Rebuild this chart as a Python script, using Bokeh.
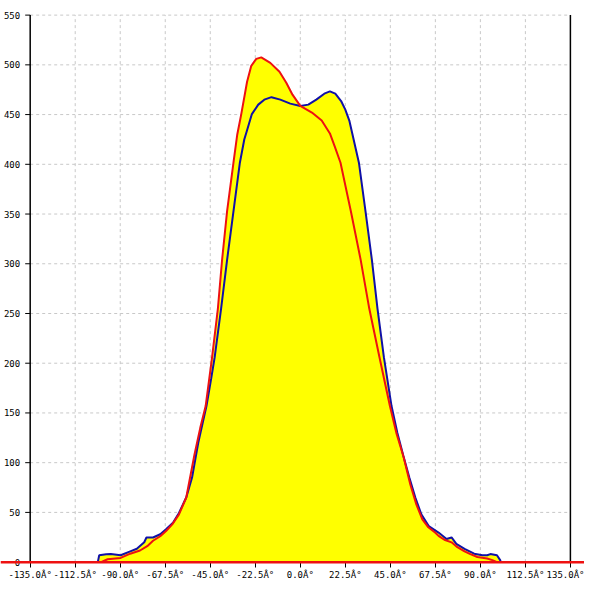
import numpy as np
from bokeh.plotting import figure
from bokeh.models import FixedTicker, Range1d, Span
from bokeh.core.properties import value
from bokeh.embed import file_html
from bokeh.resources import INLINE

# ---- data ----
X_TICKS = [-135.0, -112.5, -90.0, -67.5, -45.0, -22.5, 0.0, 22.5, 45.0, 67.5, 90.0, 112.5, 135.0]
X_LABELS = [f"{t:.1f}Â°" for t in X_TICKS]
Y_TICKS = [0, 50, 100, 150, 200, 250, 300, 350, 400, 450, 500, 550]
Y_LABELS = [str(v) for v in Y_TICKS]

BLUE_X = [-101.2, -100.5, -97.0, -94.7, -89.8, -85.0, -81.7, -78.0, -76.9, -73.6, -70.0, -67.1,
          -63.5, -60.7, -57.0, -54.1, -51.0, -49.0, -46.9, -44.5, -42.8, -39.6, -36.6, -33.4,
          -30.2, -28.0, -26.6, -24.2, -21.0, -18.0, -14.4, -10.0, -5.0, 0.0, 4.0, 8.0, 12.0,
          14.8, 17.5, 20.4, 22.5, 24.5, 27.0, 29.3, 32.6, 35.8, 38.6, 41.8, 45.6, 48.5, 51.5,
          54.5, 57.5, 60.5, 64.2, 69.1, 73.1, 75.6, 78.0, 82.1, 86.9, 91.0, 93.4, 95.0, 98.3,
          99.9, 100.2]
BLUE_Y = [0, 6.9, 8.0, 8.1, 6.9, 10.8, 13.4, 20.0, 24.8, 24.8, 28.0, 33.0,
          40.0, 49.2, 65.0, 85.0, 120.0, 138.0, 156.9, 185.0, 205.8, 254.7, 303.7, 352.6,
          401.6, 425.0, 434.2, 450.5, 460.0, 465.0, 467.5, 465.0, 461.0, 458.7, 460.0, 465.0, 471.0,
          473.4, 471.0, 463.6, 455.0, 444.0, 422.0, 401.6, 352.6, 303.7, 254.7, 205.8, 156.9, 130.0, 107.0,
          85.0, 65.0, 48.0, 36.2, 29.7, 23.2, 24.8, 18.3, 13.4, 8.5, 6.9, 6.9, 8.1, 6.9,
          2.0, 0]

RED_X = [-99.6, -96.3, -89.8, -85.0, -80.1, -76.5, -73.6, -70.0, -67.1, -64.0, -60.7, -57.0,
         -52.9, -50.0, -47.3, -44.1, -41.2, -39.1, -36.6, -33.4, -31.5, -29.5, -26.6, -24.5,
         -22.0, -19.5, -15.0, -10.4, -7.0, -3.9, 0.0, 5.8, 10.7, 14.8, 17.2, 20.1, 25.3, 30.2,
         34.5, 39.6, 44.8, 48.0, 51.6, 55.0, 58.0, 61.0, 64.0, 67.5, 69.1, 72.0, 75.6, 78.5,
         82.1, 85.0, 88.5, 93.4, 96.0, 98.3]
RED_Y = [0, 2.9, 4.2, 8.5, 11.7, 16.0, 21.5, 26.0, 31.3, 38.0, 47.7, 65.0,
         108.0, 135.0, 156.9, 205.8, 254.7, 303.7, 352.6, 401.6, 430.0, 450.5, 483.0, 499.0,
         506.0, 507.5, 502.0, 493.0, 482.0, 470.0, 458.7, 452.0, 444.0, 431.0, 418.0, 401.6, 352.6, 303.7,
         254.7, 205.8, 156.9, 130.0, 106.0, 78.0, 58.0, 43.0, 35.0, 29.5, 26.4, 22.5, 19.9, 15.0,
         10.8, 8.0, 5.2, 3.6, 2.0, 0]

X_MIN, X_MAX = X_TICKS[0], X_TICKS[-1]
Y_MIN, Y_MAX = Y_TICKS[0], Y_TICKS[-1]

FONT = value("DejaVu Sans Mono")
GRID = "#c8c8c8"
RED = "#ee1111"
BLUE = "#1010a8"

p = figure(width=584, height=584,
           x_range=Range1d(-149.84, 142.05), y_range=Range1d(-5.4, 564.7),
           y_axis_location=None, toolbar_location=None, output_backend="svg",
           min_border_left=0, min_border_right=0, min_border_top=0, min_border_bottom=17)
p.outline_line_color = None
p.grid.visible = False
p.background_fill_color = "white"
p.border_fill_color = "white"

# grid
gx = X_TICKS[1:-1]
p.segment(x0=gx, y0=[Y_MIN] * len(gx), x1=gx, y1=[Y_MAX] * len(gx),
          line_color=GRID, line_width=1, line_dash="3 3")
gy = Y_TICKS[1:]
p.segment(x0=[X_MIN] * len(gy), y0=gy, x1=[X_MAX] * len(gy), y1=gy,
          line_color=GRID, line_width=1, line_dash="3 3")

# fills
p.varea(x=BLUE_X, y1=[0] * len(BLUE_X), y2=BLUE_Y, fill_color="#ffff00")
p.varea(x=RED_X, y1=[0] * len(RED_X), y2=RED_Y, fill_color="#ffff00")

# lines
p.line(BLUE_X, BLUE_Y, line_color=BLUE, line_width=2)
p.line(RED_X, RED_Y, line_color=RED, line_width=2)

# left axis and right border
p.segment(x0=[X_MIN, X_MAX], y0=[Y_MIN, Y_MIN], x1=[X_MIN, X_MAX], y1=[Y_MAX, Y_MAX],
          line_color="black", line_width=1.5)
p.ray(x=[X_MIN] * len(Y_TICKS), y=Y_TICKS, length=5, length_units="screen",
      angle=np.pi, line_color="black", line_width=1)
p.text(x=[X_MIN] * len(Y_TICKS), y=Y_TICKS, text=Y_LABELS, text_font=FONT,
       text_font_size="9px", text_align="right", text_baseline="middle",
       x_offset=-10, text_color="black")

# zero line across the full width
p.add_layout(Span(location=0, dimension="width", line_color=RED, line_width=2.5))

# x axis (ticks reach up to the zero line)
ax = p.xaxis[0]
ax.ticker = FixedTicker(ticks=X_TICKS)
ax.major_label_overrides = {t: l for t, l in zip(X_TICKS, X_LABELS)}
ax.axis_line_color = None
ax.major_tick_line_color = "black"
ax.major_tick_out = 0
ax.major_tick_in = 6
ax.minor_tick_out = 0
ax.minor_tick_in = 0
ax.major_label_text_font = "DejaVu Sans Mono"
ax.major_label_text_font_size = "9px"
ax.major_label_text_color = "black"
ax.major_label_standoff = 2

open("out.html", "w").write(file_html(p, INLINE))
